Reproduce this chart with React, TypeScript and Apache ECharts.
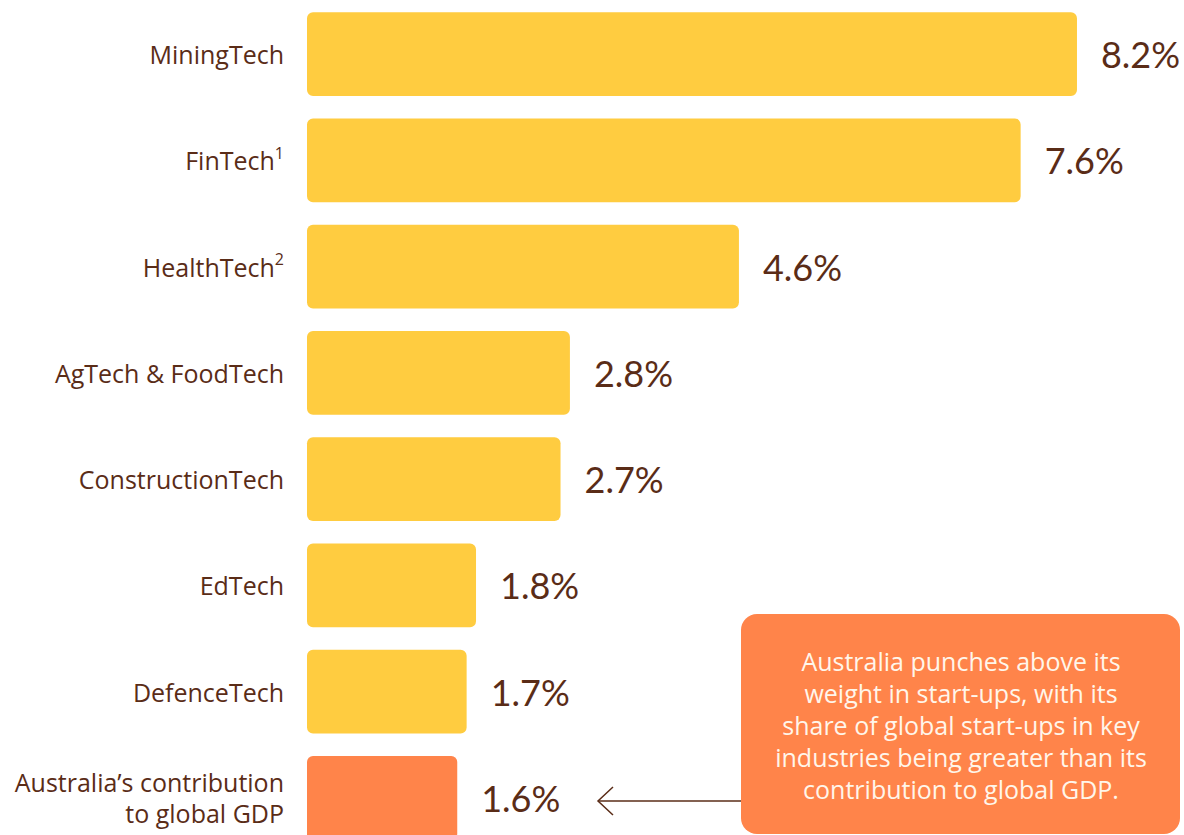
import React, { useEffect, useRef } from "react";
import * as echarts from "echarts";

const categories = [
  "MiningTech",
  "FinTech",
  "HealthTech",
  "AgTech & FoodTech",
  "ConstructionTech",
  "EdTech",
  "DefenceTech",
  "Australia’s contribution\nto global GDP",
];
const footnotes = ["", "1", "2", "", "", "", "", ""];
const values = [8.2, 7.6, 4.6, 2.8, 2.7, 1.8, 1.7, 1.6];
const highlight = [false, false, false, false, false, false, false, true];
const noteLines = [
  "Australia punches above its",
  "weight in start-ups, with its",
  "share of global start-ups in key",
  "industries being greater than its",
  "contribution to global GDP.",
];

const BROWN = "#5A2C17";
const YELLOW = "#FFCC40";
const ORANGE = "#FF844A";
const FONT = "'Open Sans', sans-serif";
const VFONT = "Lato, sans-serif";

export default function App() {
  const ref = useRef<HTMLDivElement>(null);
  useEffect(() => {
    if (!ref.current) return;
    const chart = echarts.init(ref.current, null, { renderer: "svg" });
    chart.setOption({
      animation: false,
      textStyle: { fontFamily: FONT },
      grid: { left: 307, top: 1, width: 939, height: 850, containLabel: false },
      xAxis: {
        type: "value",
        min: 0,
        max: 10,
        show: false,
      },
      yAxis: {
        type: "category",
        inverse: true,
        data: categories,
        axisLine: { show: false },
        axisTick: { show: false },
        splitLine: { show: false },
        axisLabel: {
          margin: 23,
          formatter: (v: string, i: number) => {
            const fn = footnotes[i];
            return fn ? `{n|${v}}{s|${fn}}` : `{n|${v}}`;
          },
          rich: {
            n: { fontSize: 25, color: BROWN, fontFamily: FONT, lineHeight: 31 },
            s: {
              fontSize: 16,
              color: BROWN,
              fontFamily: FONT,
              verticalAlign: "top",
              lineHeight: 31,
              padding: [0, 0, 12, 0],
            },
          },
        },
      },
      series: [
        {
          type: "bar",
          data: values.map((v, i) => ({
            value: v,
            itemStyle: { color: highlight[i] ? ORANGE : YELLOW },
          })),
          barCategoryGap: "21%",
          itemStyle: { borderRadius: 6 },
          label: {
            show: true,
            position: "right",
            distance: 24,
            fontSize: 36,
            color: BROWN,
            fontFamily: VFONT,
            formatter: (p: any) => `${p.value.toFixed(1)}%`,
          },
        },
      ],
      graphic: [
        {
          type: "rect",
          shape: { x: 741, y: 614, width: 439, height: 220, r: 16 },
          style: { fill: ORANGE },
          z: 10,
        },
        {
          type: "text",
          x: 961,
          y: 725,
          z: 11,
          style: {
            text: noteLines.join("\n"),
            fill: "#FFF6EA",
            font: `25px ${FONT}`,
            lineHeight: 32,
            align: "center",
            verticalAlign: "middle",
          },
        },
        {
          type: "line",
          shape: { x1: 741, y1: 801, x2: 598, y2: 801 },
          style: { stroke: BROWN, lineWidth: 1.5 },
          z: 10,
        },
        {
          type: "polyline",
          shape: { points: [[613, 787], [598, 801], [613, 815]] },
          style: { stroke: BROWN, lineWidth: 1.5, fill: "none" },
          z: 10,
        },
      ],
    });
    return () => chart.dispose();
  }, []);
  return (
    <div
      style={{
        position: "fixed",
        left: 0,
        top: 0,
        width: 1184,
        height: 835,
        overflow: "hidden",
        background: "#fff",
      }}
    >
      <div ref={ref} style={{ width: 1300, height: 900 }} />
    </div>
  );
}
